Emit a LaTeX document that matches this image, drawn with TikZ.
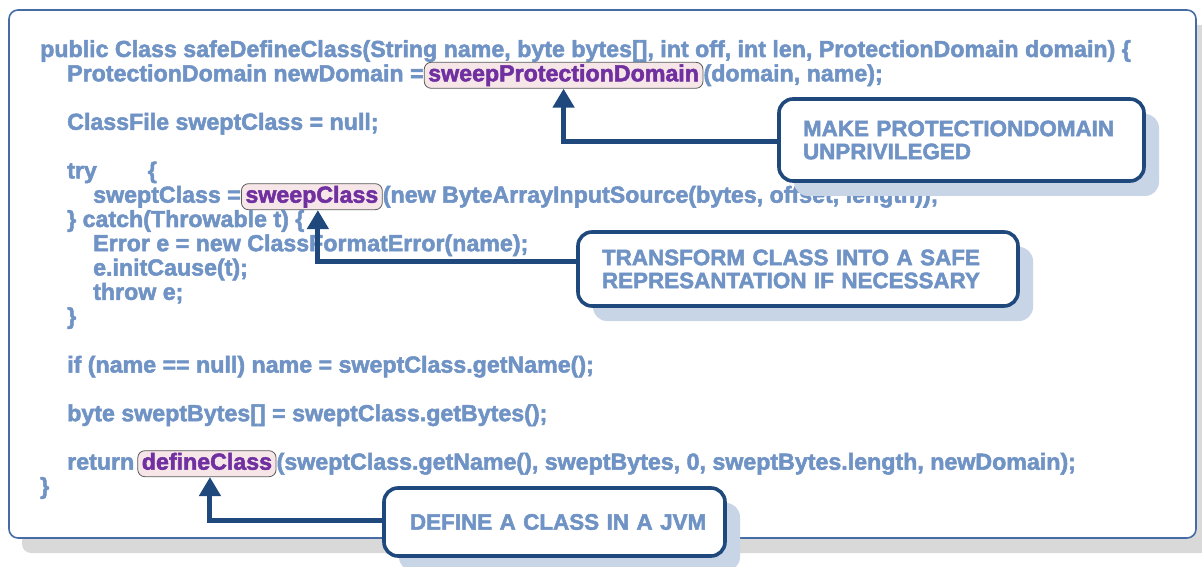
\documentclass[tikz,border=0pt]{standalone}
\usepackage{fontspec}
\setmainfont{Liberation Sans}[BoldFeatures={FakeBold=2.2}]
\usetikzlibrary{arrows.meta,shadows}

\definecolor{codeblue}{RGB}{112,147,197}
\definecolor{hlpurple}{RGB}{112,48,160}
\definecolor{hlfill}{RGB}{247,230,232}
\definecolor{navy}{RGB}{31,73,125}
\definecolor{framecol}{RGB}{70,108,165}
\definecolor{frameshadow}{RGB}{217,217,217}
\definecolor{callshadow}{RGB}{200,213,230}

\begin{document}
\begin{tikzpicture}[x=1bp,y=-1bp,
  code/.style={anchor=base west, inner sep=0pt, text=codeblue,
    font=\fontsize{23.2bp}{24bp}\selectfont\bfseries},
  hl/.style={anchor=base west, draw=black!65, line width=0.8bp, fill=hlfill,
    rounded corners=7bp, inner xsep=4bp, inner ysep=2bp,
    text height=17bp, text depth=5bp, text=hlpurple,
    font=\fontsize{23.2bp}{24bp}\selectfont\bfseries},
  callout/.style={draw=navy, line width=3.6bp, fill=white, rounded corners=14bp,
    align=left, inner xsep=24bp, inner ysep=0pt, text=codeblue,
    font=\fontsize{22.4bp}{23bp}\selectfont\bfseries,
    drop shadow={shadow xshift=15bp, shadow yshift=-15bp, fill=callshadow, opacity=1}},
  pointer/.style={navy, line width=5bp, -{Triangle[width=21bp,length=19bp]}}]

\useasboundingbox (0,0) rectangle (1202,567);

% page frame with its grey shadow
\fill[frameshadow, rounded corners=9bp] (22,25) rectangle (1209,553);
\draw[framecol, line width=1.6bp, fill=white, rounded corners=9bp] (9,10) rectangle (1196,538);

% source code
\node[code] (L1) at (40,57) {public Class safeDefineClass(String name, byte bytes[], int off, int len, ProtectionDomain domain) \{};
\node[code] (L2a) at (67,81.3) {ProtectionDomain newDomain =};
\node[hl] (spd) at (L2a.base east) {sweepProtectionDomain};
\node[code] (L2b) at (spd.base east) {(domain, name);};
\node[code] (L4) at (67,129.8) {ClassFile sweptClass = null;};
\node[code] (L6) at (67,178.4) {try\hspace{51bp}\{};
\node[code] (L7a) at (93,202.7) {sweptClass =~};
\node[hl] (sc) at (L7a.base east) {sweepClass};
\node[code] (L7b) at (sc.base east) {(new ByteArrayInputSource(bytes, offset, length));};
\node[code] (L8) at (67,227) {\} catch(Throwable t) \{};
\node[code] (L9) at (93,251.2) {Error e = new ClassFormatError(name);};
\node[code] (L10) at (93,275.5) {e.initCause(t);};
\node[code] (L11) at (93,299.8) {throw e;};
\node[code] (L12) at (67,324.1) {\}};
\node[code] (L14) at (67,372.6) {if (name == null) name = sweptClass.getName();};
\node[code] (L16) at (67,421.2) {byte sweptBytes[] = sweptClass.getBytes();};
\node[code] (L18a) at (67,469.7) {return};
\node[hl, xshift=3bp] (dc) at (L18a.base east) {defineClass};
\node[code] (L18b) at (dc.base east) {(sweptClass.getName(), sweptBytes, 0, sweptBytes.length, newDomain);};
\node[code] (L19) at (40,494) {\}};

% explanatory callouts
\node[callout, minimum width=365bp, minimum height=82bp, text width=317bp] (c1) at (961.5,140)
  {MAKE PROTECTIONDOMAIN\\UNPRIVILEGED};
\node[callout, minimum width=440bp, minimum height=74bp, text width=392bp] (c2) at (798,269)
  {TRANSFORM CLASS INTO A SAFE\\REPRESANTATION IF NECESSARY};
\node[callout, minimum width=341bp, minimum height=68bp, text width=317bp, inner xsep=12bp] (c3) at (554.5,522)
  {\hspace*{14bp}DEFINE A CLASS IN A JVM};

% pointers from callouts to the highlighted calls
\draw[pointer] ([yshift=-2bp]c1.west) -| (spd.south);
\draw[pointer] ([yshift=7bp]c2.west) -| ([xshift=6bp]sc.south);
\draw[pointer] ([yshift=2bp]c3.west) -| ([xshift=3bp]dc.south);
\end{tikzpicture}
\end{document}
